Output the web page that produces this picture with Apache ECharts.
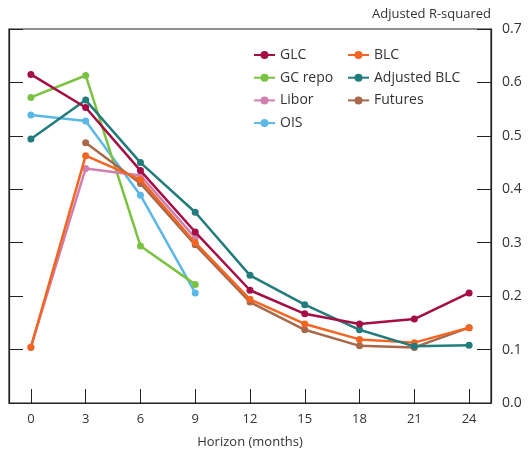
<!DOCTYPE html>
<html lang="en">
<head>
    <meta charset="UTF-8">
    <title>Adjusted R-squared</title>
    <script type="text/javascript" src="https://cdn.jsdelivr.net/npm/echarts@6/dist/echarts.min.js"></script>
    <style>body{margin:0;background:#fff;}</style>
</head>
<body>
<div id="main" style="width: 532px; height: 454px;"></div>

<script type="text/javascript">
    // horizons (months)
    var horizons = [0, 3, 6, 9, 12, 15, 18, 21, 24];
    var yTicks = [0, 0.1, 0.2, 0.3, 0.4, 0.5, 0.6, 0.7];

    var glc      = [0.615, 0.553, 0.435, 0.320, 0.211, 0.167, 0.148, 0.157, 0.206];
    var blc      = [0.104, 0.463, 0.418, 0.300, 0.194, 0.148, 0.119, 0.113, 0.141];
    var gcRepo   = [0.572, 0.613, 0.294, 0.222];
    var adjBlc   = [0.494, 0.567, 0.450, 0.357, 0.239, 0.184, 0.137, 0.106, 0.108];
    var libor    = [0.105, 0.439, 0.426, 0.309];
    var futures  = [null, 0.487, 0.411, 0.296, 0.189, 0.137, 0.107, 0.104, 0.141];
    var ois      = [0.539, 0.528, 0.389, 0.206];

    function pairs(vals) {
        var out = [];
        for (var i = 0; i < vals.length; i++) {
            if (vals[i] !== null) out.push([horizons[i], vals[i]]);
        }
        return out;
    }

    function line(name, vals, color, z) {
        return {
            name: name,
            type: 'line',
            data: pairs(vals),
            symbol: 'circle',
            symbolSize: 7,
            z: z,
            lineStyle: { width: 2.5, color: color },
            itemStyle: { color: color },
            emphasis: { disabled: true }
        };
    }

    var font = 'Open Sans';
    var txt = '#333';

    var myChart = echarts.init(document.getElementById('main'));
    myChart.setOption({
        animation: false,
        textStyle: { fontFamily: font },
        grid: {
            left: 9, right: 41, top: 29, bottom: 47,
            show: true, borderColor: '#222', borderWidth: 1.2
        },
        graphic: [{
            type: 'text', right: 41, top: 8,
            style: { text: 'Adjusted R-squared', font: '13px "Open Sans"', fill: txt }
        }],
        legend: [{
            data: ['GLC', 'GC repo', 'Libor', 'OIS'],
            orient: 'vertical', left: 248, top: 43,
            itemWidth: 21, itemHeight: 10, itemGap: 8.7,
            textStyle: { fontSize: 14, color: txt, fontFamily: font, lineHeight: 10 }
        }, {
            data: ['BLC', 'Adjusted BLC', 'Futures'],
            orient: 'vertical', left: 342, top: 43,
            itemWidth: 21, itemHeight: 10, itemGap: 8.7,
            textStyle: { fontSize: 14, color: txt, fontFamily: font, lineHeight: 10 }
        }],
        xAxis: {
            type: 'value', min: -1.2, max: 25.2,
            name: 'Horizon (months)', nameLocation: 'middle', nameGap: 33,
            nameTextStyle: { fontSize: 13, color: txt },
            axisLine: { show: true, onZero: false, lineStyle: { color: '#222', width: 1.2 } },
            axisTick: { show: true, inside: true, length: 14, customValues: horizons, lineStyle: { color: '#222' } },
            axisLabel: { customValues: horizons, fontSize: 13, color: txt, margin: 10 },
            splitLine: { show: false }
        },
        yAxis: [{
            type: 'value', position: 'right', min: 0, max: 0.7, interval: 0.1,
            axisLine: { show: true, onZero: false, lineStyle: { color: '#222', width: 1.2 } },
            axisTick: { show: true, inside: true, length: 14, lineStyle: { color: '#222' } },
            axisLabel: { fontSize: 14, color: txt, margin: 11, formatter: function (v) { return v.toFixed(1); } },
            splitLine: { show: false }
        }, {
            type: 'value', position: 'left', min: 0, max: 0.7, interval: 0.1,
            axisLine: { show: true, onZero: false, lineStyle: { color: '#222', width: 1.2 } },
            axisTick: { show: true, inside: true, length: 14, lineStyle: { color: '#222' } },
            axisLabel: { show: false },
            splitLine: { show: false }
        }],
        series: [
            line('GLC', glc, '#a50d45', 8),
            line('BLC', blc, '#f26522', 6),
            line('GC repo', gcRepo, '#7cc242', 3),
            line('Adjusted BLC', adjBlc, '#227b7c', 7),
            line('Libor', libor, '#d07fae', 4),
            line('Futures', futures, '#a8694a', 5),
            line('OIS', ois, '#5bb8e6', 2)
        ]
    });
</script>
</body>
</html>
